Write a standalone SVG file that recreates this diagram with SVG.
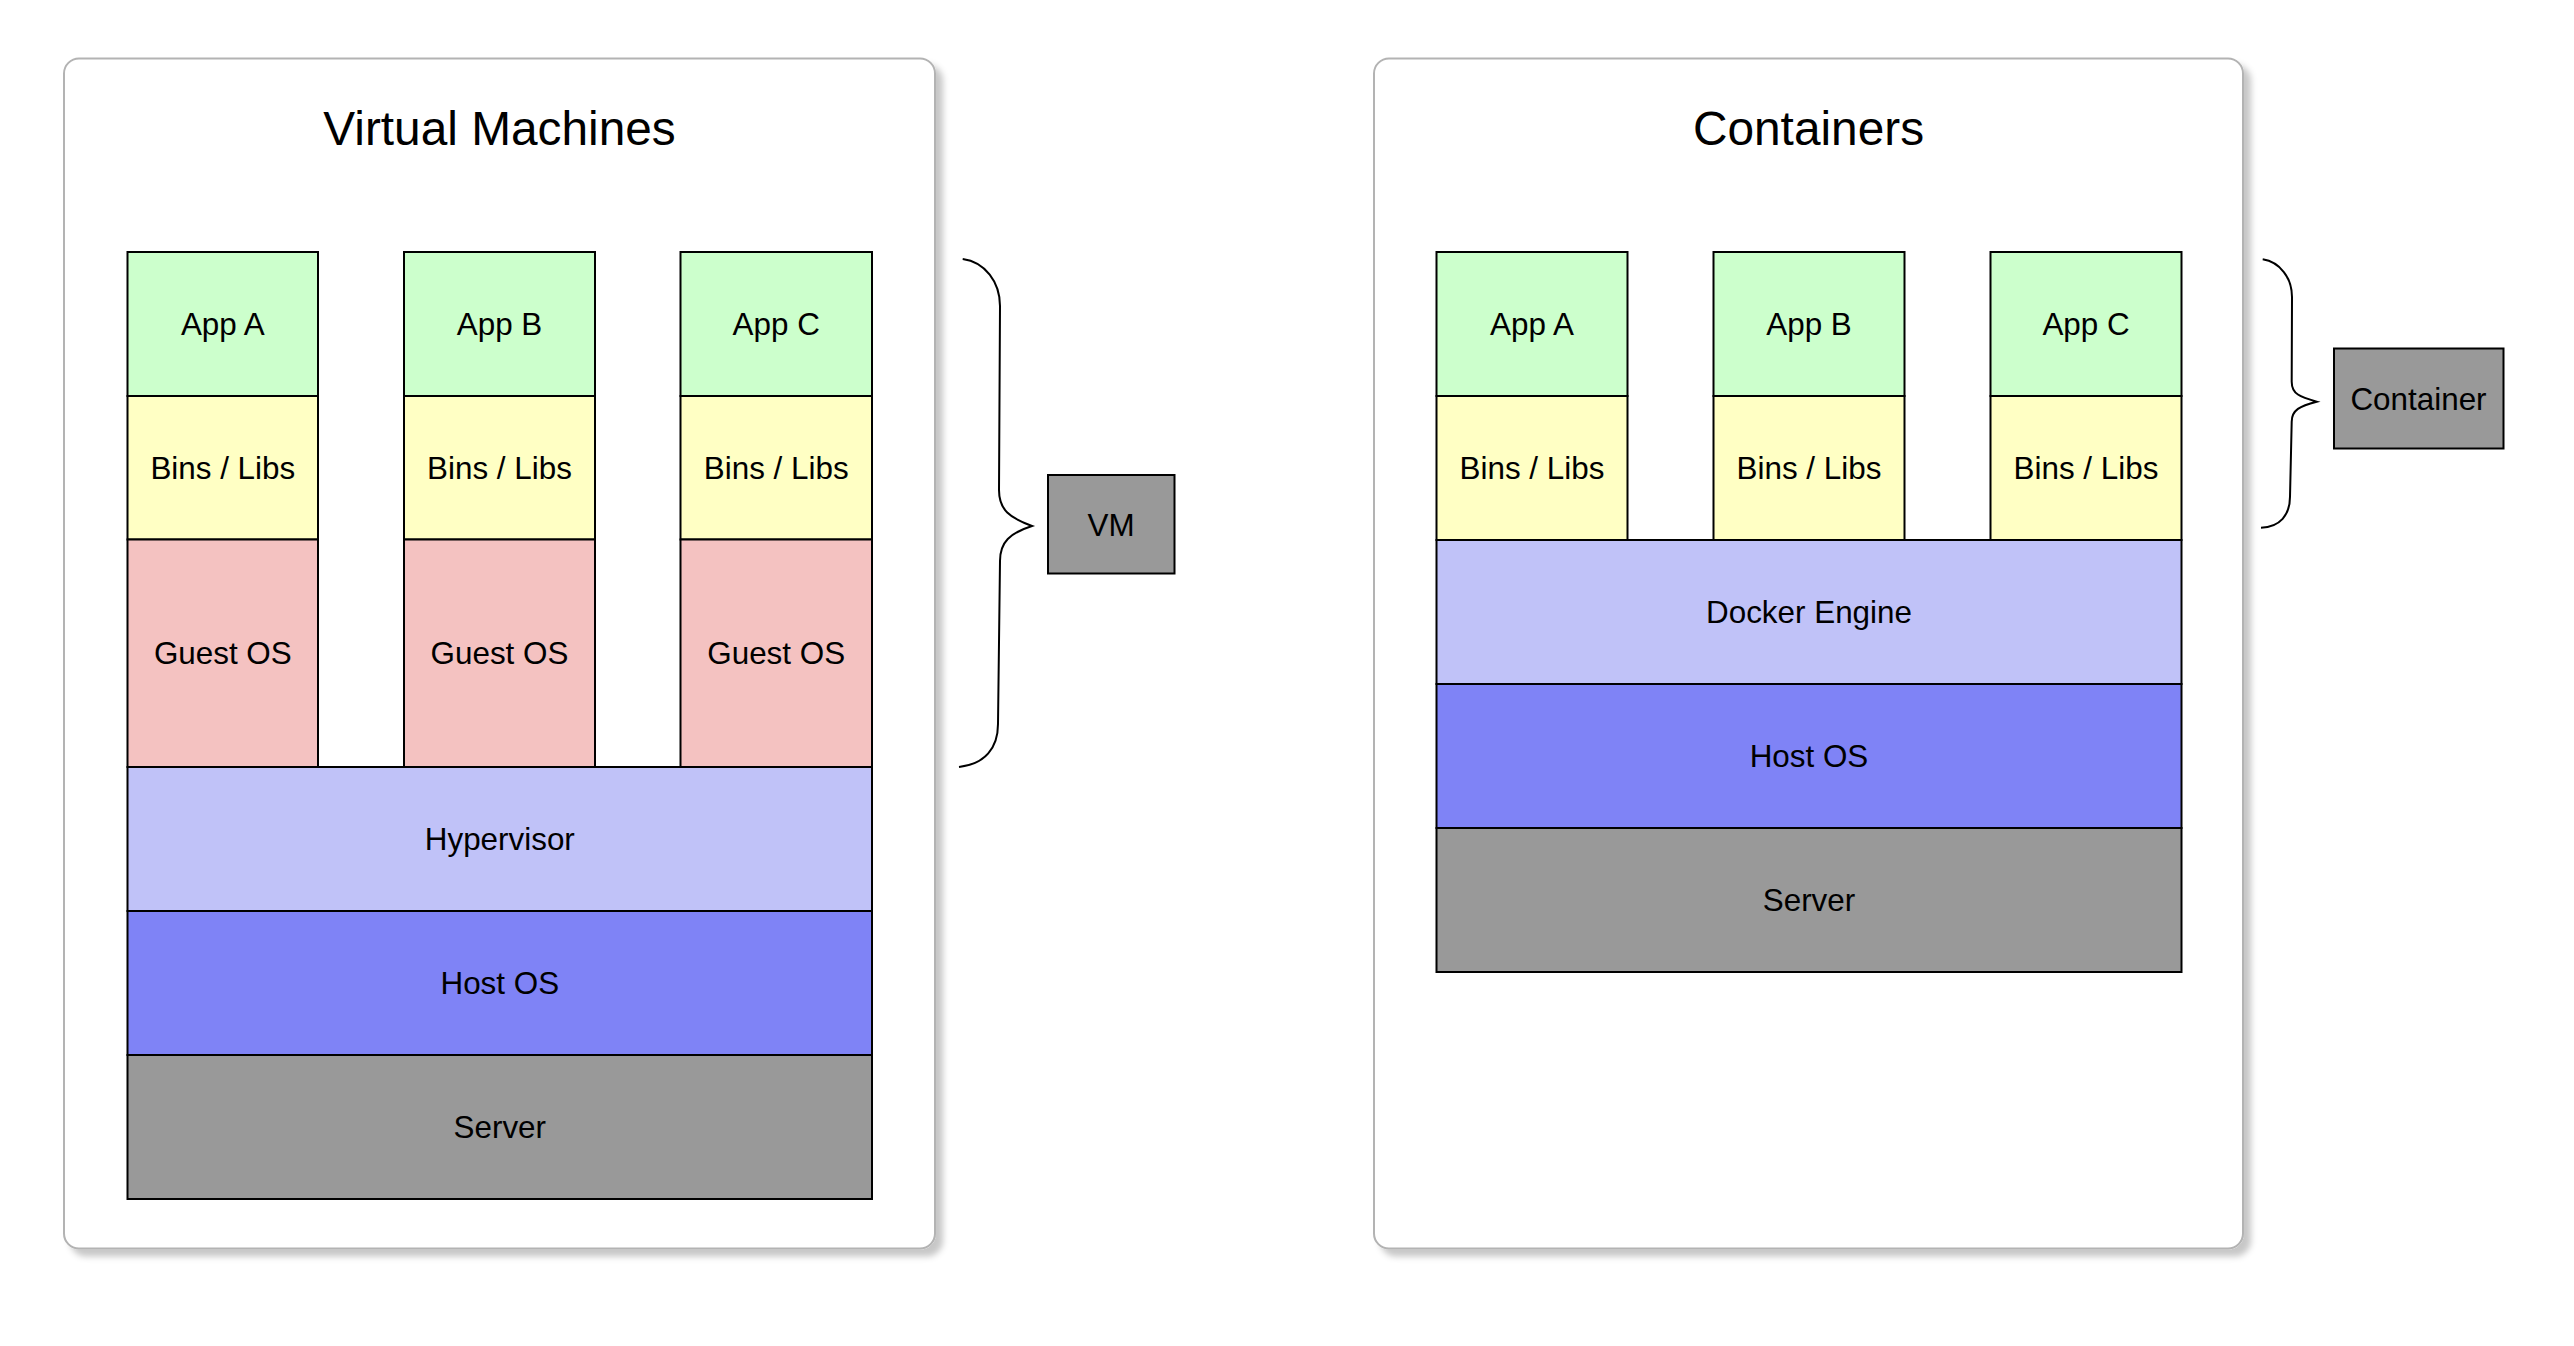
<svg xmlns="http://www.w3.org/2000/svg" width="2574" height="1346" viewBox="0 0 2574 1346">
<defs>
<filter id="shadow" x="-5%" y="-5%" width="115%" height="115%">
<feDropShadow dx="7" dy="7" stdDeviation="3" flood-color="#000" flood-opacity="0.22"/>
</filter>
</defs>
<style>
.panel{fill:#fff;stroke:#b3b3b3;stroke-width:2;filter:url(#shadow)}
.box{stroke:#000;stroke-width:2}
.app{fill:#ccffcc}
.bins{fill:#ffffc4}
.guest{fill:#f4c2c1}
.engine{fill:#c0c2f8}
.host{fill:#7f83f6}
.server{fill:#999999}
text{font-family:"Liberation Sans",Arial,Helvetica,sans-serif;fill:#000;text-anchor:middle}
.lbl{font-size:31.4px}
.title{font-size:47.8px}
.brace{fill:none;stroke:#000;stroke-width:2}
</style>
<rect width="2574" height="1346" fill="#fff"/>

<g id="vm-panel">
<rect class="panel" x="64" y="58.5" width="871" height="1190" rx="15"/>
<text class="title" x="499.5" y="145">Virtual Machines</text>
</g>

<g id="containers-panel">
<rect class="panel" x="1374" y="58.5" width="869" height="1190" rx="15"/>
<text class="title" x="1808.5" y="145">Containers</text>
</g>

<g id="vm-app-a"><rect class="box app" x="127.5" y="252" width="190.5" height="144"/><text class="lbl" x="222.8" y="335">App A</text></g>
<g id="vm-app-b"><rect class="box app" x="404" y="252" width="191" height="144"/><text class="lbl" x="499.5" y="335">App B</text></g>
<g id="vm-app-c"><rect class="box app" x="680.5" y="252" width="191.5" height="144"/><text class="lbl" x="776.2" y="335">App C</text></g>
<g id="vm-bins-a"><rect class="box bins" x="127.5" y="396" width="190.5" height="143.5"/><text class="lbl" x="222.8" y="479">Bins / Libs</text></g>
<g id="vm-bins-b"><rect class="box bins" x="404" y="396" width="191" height="143.5"/><text class="lbl" x="499.5" y="479">Bins / Libs</text></g>
<g id="vm-bins-c"><rect class="box bins" x="680.5" y="396" width="191.5" height="143.5"/><text class="lbl" x="776.2" y="479">Bins / Libs</text></g>
<g id="vm-guest-a"><rect class="box guest" x="127.5" y="539.5" width="190.5" height="227.5"/><text class="lbl" x="222.8" y="664">Guest OS</text></g>
<g id="vm-guest-b"><rect class="box guest" x="404" y="539.5" width="191" height="227.5"/><text class="lbl" x="499.5" y="664">Guest OS</text></g>
<g id="vm-guest-c"><rect class="box guest" x="680.5" y="539.5" width="191.5" height="227.5"/><text class="lbl" x="776.2" y="664">Guest OS</text></g>
<g id="vm-hypervisor"><rect class="box engine" x="127.5" y="767" width="744.5" height="144"/><text class="lbl" x="499.8" y="850">Hypervisor</text></g>
<g id="vm-host"><rect class="box host" x="127.5" y="911" width="744.5" height="144"/><text class="lbl" x="499.8" y="994">Host OS</text></g>
<g id="vm-server"><rect class="box server" x="127.5" y="1055" width="744.5" height="144"/><text class="lbl" x="499.8" y="1138">Server</text></g>

<g id="ct-app-a"><rect class="box app" x="1436.5" y="252" width="191" height="144"/><text class="lbl" x="1532" y="335">App A</text></g>
<g id="ct-app-b"><rect class="box app" x="1713.5" y="252" width="191" height="144"/><text class="lbl" x="1809" y="335">App B</text></g>
<g id="ct-app-c"><rect class="box app" x="1990.5" y="252" width="191" height="144"/><text class="lbl" x="2086" y="335">App C</text></g>
<g id="ct-bins-a"><rect class="box bins" x="1436.5" y="396" width="191" height="144"/><text class="lbl" x="1532" y="479">Bins / Libs</text></g>
<g id="ct-bins-b"><rect class="box bins" x="1713.5" y="396" width="191" height="144"/><text class="lbl" x="1809" y="479">Bins / Libs</text></g>
<g id="ct-bins-c"><rect class="box bins" x="1990.5" y="396" width="191" height="144"/><text class="lbl" x="2086" y="479">Bins / Libs</text></g>
<g id="ct-docker"><rect class="box engine" x="1436.5" y="540" width="745" height="144"/><text class="lbl" x="1809" y="623">Docker Engine</text></g>
<g id="ct-host"><rect class="box host" x="1436.5" y="684" width="745" height="144"/><text class="lbl" x="1809" y="767">Host OS</text></g>
<g id="ct-server"><rect class="box server" x="1436.5" y="828" width="745" height="144"/><text class="lbl" x="1809" y="911">Server</text></g>

<g id="vm-label"><rect class="box server" x="1048" y="475" width="126.5" height="98.5"/><text class="lbl" x="1111" y="535.5">VM</text></g>
<g id="container-label"><rect class="box server" x="2334" y="348.5" width="169.5" height="100"/><text class="lbl" x="2418.5" y="409.5">Container</text></g>

<g id="connectors">
<path class="brace" d="M 962.7 259 C 985 262 1000 282 1000 306 L 999 490 C 999 510 1010 518 1032 526 C 1010 533 1000 542 1000 561 L 998 724 C 998 748 985 764 959 767"/>
<path class="brace" d="M 2262.7 259.3 C 2280 262 2292 278 2292 297 L 2291.7 381.7 C 2291.7 394 2300 397 2316.7 401.7 C 2300 406 2291.7 410 2291.7 421.7 L 2290 496.7 C 2290 515 2280 527 2261 527.7"/>
</g>
</svg>
